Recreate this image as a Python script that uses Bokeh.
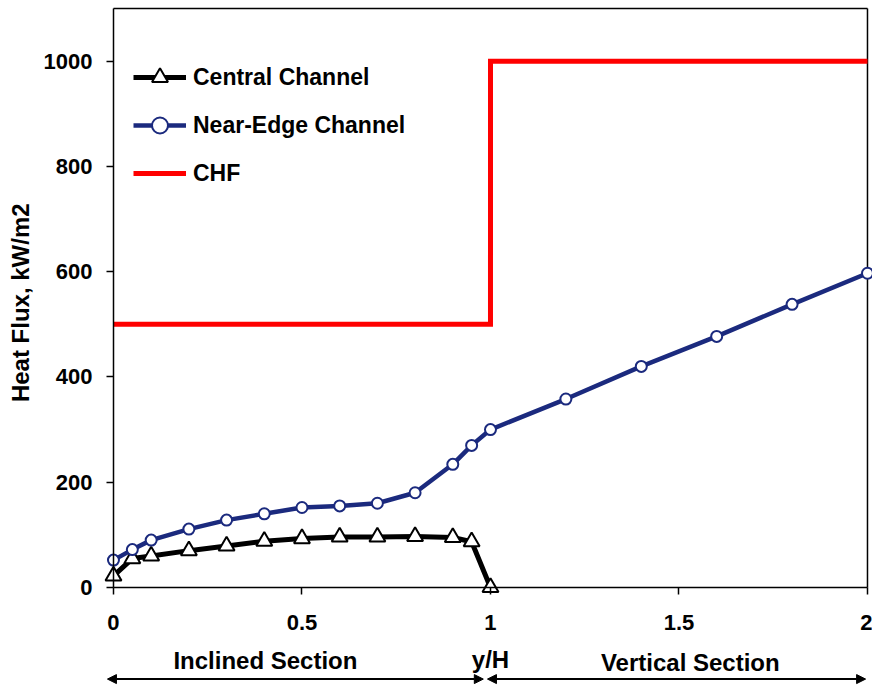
import math
from bokeh.plotting import figure
from bokeh.models import (Range1d, Legend, LegendItem, Label, Arrow, NormalHead,
                          FixedTicker, NumeralTickFormatter)
from bokeh.embed import file_html
from bokeh.resources import INLINE

# ---------------- data ----------------
near_edge_x = [0, 0.05, 0.1, 0.2, 0.3, 0.4, 0.5, 0.6, 0.7, 0.8, 0.9, 0.95, 1.0,
               1.2, 1.4, 1.6, 1.8, 2.0]
near_edge_flux = [52, 72, 90, 111, 128, 140, 152, 155, 160, 180, 234, 270, 300,
                  358, 420, 477, 538, 597]
central_x = [0, 0.05, 0.1, 0.2, 0.3, 0.4, 0.5, 0.6, 0.7, 0.8, 0.9, 0.95, 1.0]
central_flux = [22, 55, 60, 70, 79, 88, 93, 96, 96, 97, 95, 87, 0]
chf_x = [0, 1, 1, 2]
chf_flux = [500, 500, 1000, 1000]
x_ticks = [0, 0.5, 1, 1.5, 2]
y_ticks = [0, 200, 400, 600, 800, 1000]
x_max = 2
y_max = 1100

FONT = "Liberation Sans"
NAVY = "#1b2a7e"

# the frame covers the whole canvas; axes are drawn through the origin
p = figure(width=872, height=687,
           x_range=Range1d(-0.2997, 2.0133), y_range=Range1d(-190.0, 1115.2),
           output_backend="svg", toolbar_location=None,
           min_border_left=0, min_border_right=0, min_border_top=0,
           min_border_bottom=0)
p.outline_line_color = None
p.grid.visible = False
p.background_fill_color = "white"

for ax in (p.xaxis[0], p.yaxis[0]):
    ax.fixed_location = 0
    ax.axis_line_width = 1.5
    ax.axis_line_color = "black"
    ax.major_tick_in = 0
    ax.major_tick_out = 7
    ax.major_tick_line_width = 1.5
    ax.minor_tick_line_color = None
    ax.major_label_text_font = FONT
    ax.major_label_text_font_style = "bold"
    ax.major_label_text_font_size = "22px"
    ax.major_label_text_color = "black"

p.xaxis[0].bounds = (0, x_max)
p.xaxis[0].ticker = FixedTicker(ticks=x_ticks)
p.xaxis[0].formatter = NumeralTickFormatter(format="0.[0]")
p.xaxis[0].major_label_standoff = 21

p.yaxis[0].bounds = (0, y_max)
p.yaxis[0].ticker = FixedTicker(ticks=y_ticks)
p.yaxis[0].major_label_standoff = 14

# top and right frame borders
p.segment(x0=[0, x_max], y0=[y_max, 0], x1=[x_max, x_max], y1=[y_max, y_max],
          line_color="black", line_width=1.5)

# series
chf = p.line(chf_x, chf_flux, line_color="#ff0000", line_width=5, line_join="miter")
ne_line = p.line(near_edge_x, near_edge_flux, line_color=NAVY, line_width=4.5)
c_line = p.line(central_x, central_flux, line_color="black", line_width=5)
c_pts = p.scatter(central_x, central_flux, marker="triangle", size=16,
                  fill_color="white", line_color="black", line_width=2)
ne_pts = p.scatter(near_edge_x, near_edge_flux, marker="circle", size=11,
                   fill_color="white", line_color=NAVY, line_width=2)

legend = Legend(items=[
    LegendItem(label="Central Channel", renderers=[c_line, c_pts]),
    LegendItem(label="Near-Edge Channel", renderers=[ne_line, ne_pts]),
    LegendItem(label="CHF", renderers=[chf]),
], location=(133, 494), orientation="vertical",
    glyph_width=53, glyph_height=40, label_height=40, spacing=8,
    padding=0, margin=0, label_standoff=7,
    label_text_font=FONT, label_text_font_style="bold",
    label_text_font_size="23px", label_text_color="black",
    border_line_alpha=0, background_fill_alpha=0)
p.add_layout(legend)

# y-axis title
p.add_layout(Label(x=-0.2467, y=541, text="Heat Flux, kW/m2", angle=math.pi / 2,
                   text_align="center", text_baseline="middle",
                   text_font=FONT, text_font_style="bold", text_font_size="24px",
                   text_color="black"))

# section labels under the axis
for xx, yy, txt in [(0.403, -139, "Inclined Section"),
                    (1.0, -137, "y/H"),
                    (1.53, -143, "Vertical Section")]:
    p.add_layout(Label(x=xx, y=yy, text=txt, text_align="center",
                       text_baseline="alphabetic", text_font=FONT,
                       text_font_style="bold", text_font_size="24px",
                       text_color="black"))

for xs, xe in [(-0.016, 0.981), (0.992, 1.995)]:
    p.add_layout(Arrow(x_start=xs, y_start=-174, x_end=xe, y_end=-174,
                       line_width=2, line_color="black",
                       start=NormalHead(size=9, fill_color="black", line_color="black"),
                       end=NormalHead(size=9, fill_color="black", line_color="black")))

open("out.html", "w").write(file_html(p, INLINE))
